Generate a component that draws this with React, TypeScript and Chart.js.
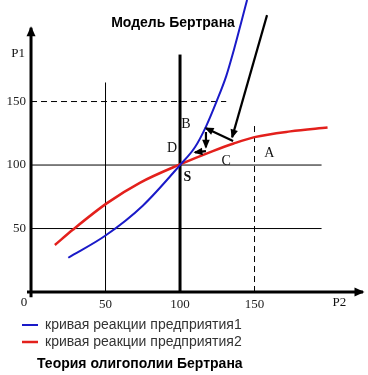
import { useEffect, useRef } from "react";
import { Chart, registerables } from "chart.js";

Chart.register(...registerables);

// Reaction curves (P2 on x, P1 on y)
const blueP2 = [25, 50, 75, 100, 110, 117.5, 124.5, 131, 136, 141, 145];
const blueP1 = [27, 44.5, 68, 100, 114, 130.5, 150, 170, 190, 212, 230];
const redP2 = [16, 28, 51, 73, 100, 122, 136, 150, 174, 199];
const redP1 = [37, 49, 70, 86, 100.5, 111, 117, 122, 126.5, 129.5];

const seriesNames = ["кривая реакции предприятия1", "кривая реакции предприятия2"];
const xTicks = [50, 100, 150];
const yTicks = [50, 100, 150];

// Reference segments in data units: [x1, y1, x2, y2]
const thinLines = [
  [0, 100, 195, 100],
  [0, 50, 195, 50],
  [50, 0, 50, 165],
];
const thickLines = [[100, 0, 100, 187]];
const dashedLines = [
  [0, 150, 131, 150],
  [150, 0, 150, 132],
];
const axisLines = [
  [0, -4, 0, 208],
  [-2.7, 0, 222.8, 0],
];
const arrowLines = [
  [158.4, 218, 135, 122],
  [135.6, 119, 117.4, 129],
  [117.4, 126, 117.4, 114],
  [117.4, 111, 110, 110],
];

// Text annotations in data units
const annotations = [
  { text: "B", x: 104, y: 132, bold: false, size: 14 },
  { text: "D", x: 94.6, y: 113, bold: false, size: 14 },
  { text: "S", x: 105, y: 90.5, bold: true, size: 14 },
  { text: "C", x: 131, y: 103, bold: false, size: 14 },
  { text: "A", x: 160, y: 109.5, bold: false, size: 14 },
  { text: "P1", x: -8.7, y: 188, bold: false, size: 13 },
  { text: "P2", x: 207, y: -8, bold: false, size: 13 },
  { text: "0", x: -4.7, y: -8, bold: false, size: 13 },
];

const topTitle = "Модель Бертрана";
const bottomTitle = "Теория олигополии Бертрана";

const BLUE = "#1a1ac8";
const RED = "#e3201c";

function seg(s: number[]) {
  return [
    { x: s[0], y: s[1] },
    { x: s[2], y: s[3] },
  ];
}

const extrasPlugin = {
  id: "extras",
  afterLayout(chart: any) {
    if (chart.legend) chart.legend.left = 19;
  },
  afterDatasetsDraw(chart: any) {
    const ctx = chart.ctx;
    chart.data.datasets.forEach((ds: any, i: number) => {
      if (!ds.arrowHead) return;
      const pts = chart.getDatasetMeta(i).data;
      const a = pts[pts.length - 2];
      const b = pts[pts.length - 1];
      const ang = Math.atan2(b.y - a.y, b.x - a.x);
      const [len, half] = ds.arrowHead;
      const c = Math.cos(ang), s = Math.sin(ang);
      const tx = b.x + c * 1.5, ty = b.y + s * 1.5;
      ctx.save();
      ctx.fillStyle = ds.borderColor;
      ctx.beginPath();
      ctx.moveTo(tx, ty);
      ctx.lineTo(tx - len * c + half * s, ty - len * s - half * c);
      ctx.lineTo(tx - len * c - half * s, ty - len * s + half * c);
      ctx.closePath();
      ctx.fill();
      ctx.restore();
    });
    const xs = chart.scales.x;
    const ys = chart.scales.y;
    ctx.save();
    ctx.fillStyle = "#111";
    ctx.textAlign = "center";
    ctx.textBaseline = "middle";
    annotations.forEach((an) => {
      ctx.font = `${an.bold ? "bold " : ""}${an.size}px "Liberation Serif", serif`;
      ctx.fillText(an.text, xs.getPixelForValue(an.x), ys.getPixelForValue(an.y));
    });
    ctx.restore();
  },
  afterDraw(chart: any) {
    const ctx = chart.ctx;
    ctx.save();
    ctx.fillStyle = "#000";
    ctx.textBaseline = "middle";
    ctx.font = 'bold 14px "Liberation Sans", Arial, sans-serif';
    ctx.textAlign = "center";
    ctx.fillText(topTitle, 173, 23);
    ctx.textAlign = "left";
    ctx.fillText(bottomTitle, 37, 364);
    ctx.restore();
  },
};

export default function App() {
  const ref = useRef<HTMLCanvasElement | null>(null);

  useEffect(() => {
    if (!ref.current) return;
    const line = (data: any[], color: string, width: number, extra: any = {}) => ({
      data,
      borderColor: color,
      backgroundColor: color,
      borderWidth: width,
      pointRadius: 0,
      showLine: true,
      fill: false,
      clip: false,
      ...extra,
    });
    const datasets: any[] = [
      line(
        blueP2.map((x, i) => ({ x, y: blueP1[i] })),
        BLUE,
        2,
        { label: seriesNames[0], cubicInterpolationMode: "monotone" }
      ),
      line(
        redP2.map((x, i) => ({ x, y: redP1[i] })),
        RED,
        2.5,
        { label: seriesNames[1], cubicInterpolationMode: "monotone" }
      ),
      ...arrowLines.map((s) => line(seg(s), "#000", 2.2, { arrowHead: [9, 3.8] })),
      ...axisLines.map((s) => line(seg(s), "#000", 3, { arrowHead: [10, 4.5] })),
      ...thickLines.map((s) => line(seg(s), "#000", 3)),
      ...thinLines.map((s) => line(seg(s), "#000", 1)),
      ...dashedLines.map((s) => line(seg(s), "#000", 1, { borderDash: [6, 4] })),
    ];

    const tickFont = { family: '"Liberation Serif", serif', size: 13 };
    const chart = new Chart(ref.current, {
      type: "scatter",
      data: { datasets },
      plugins: [extrasPlugin],
      options: {
        animation: false,
        responsive: true,
        maintainAspectRatio: false,
        events: [],
        layout: { padding: { left: 0, right: 5, top: 28, bottom: 16 } },
        scales: {
          x: {
            type: "linear",
            min: -2.7,
            max: 222.8,
            grid: { display: false, drawTicks: false, tickLength: 0 },
            border: { display: false },
            ticks: { font: tickFont, color: "#222", padding: 0, autoSkip: false, maxRotation: 0 },
            afterBuildTicks: (scale: any) => {
              scale.ticks = xTicks.map((v) => ({ value: v }));
            },
            afterFit: (scale: any) => {
              scale.height = 18;
            },
          },
          y: {
            type: "linear",
            min: -3.9,
            max: 207.9,
            grid: { display: false, drawTicks: false, tickLength: 0 },
            border: { display: false },
            ticks: { font: tickFont, color: "#222", padding: 1, autoSkip: false },
            afterBuildTicks: (scale: any) => {
              scale.ticks = yTicks.map((v) => ({ value: v }));
            },
            afterFit: (scale: any) => {
              scale.width = 27;
            },
          },
        },
        plugins: {
          tooltip: { enabled: false },
          title: { display: false },
          legend: {
            display: true,
            position: "bottom",
            align: "start",
            labels: {
              usePointStyle: true,
              pointStyle: "line",
              pointStyleWidth: 16,
              padding: 3,
              color: "#333",
              font: { family: '"Liberation Sans", Arial, sans-serif', size: 14 },
              filter: (item: any) => item.datasetIndex < 2,
            },
          },
        },
      } as any,
    });
    return () => chart.destroy();
  }, []);

  return (
    <div style={{ position: "fixed", left: 0, top: 0, width: 368, height: 375 }}>
      <canvas ref={ref} />
    </div>
  );
}
